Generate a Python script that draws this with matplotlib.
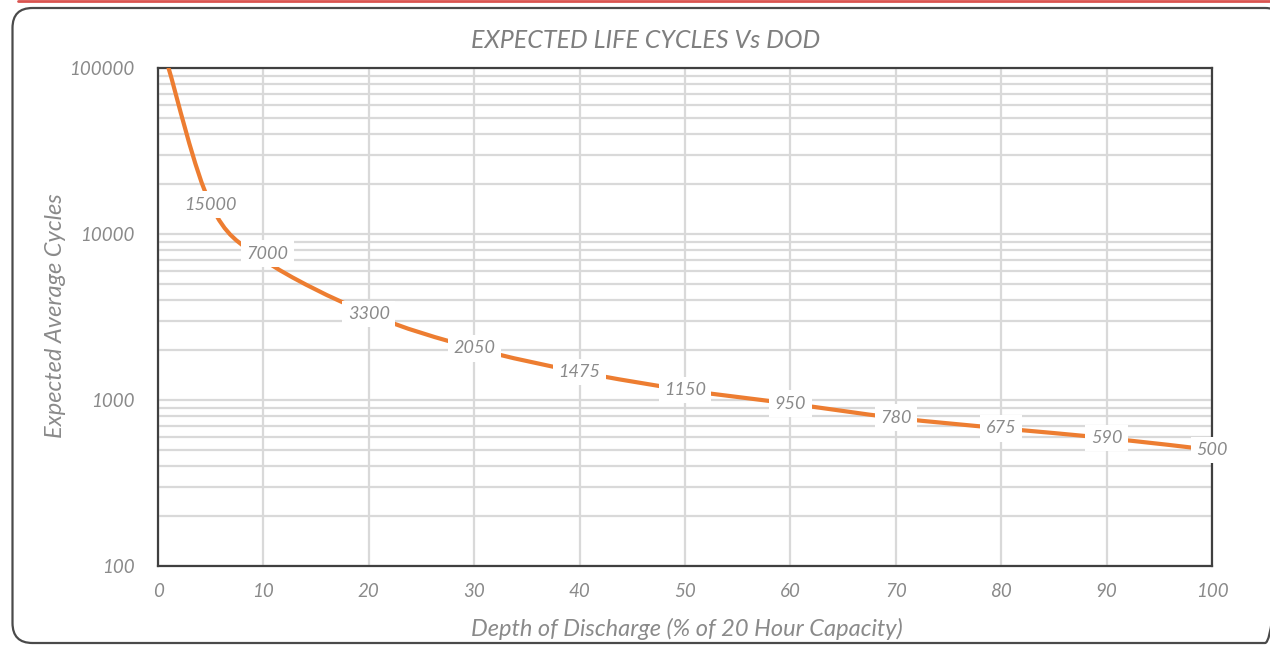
import numpy as np
import matplotlib
matplotlib.use("Agg")
import matplotlib.pyplot as plt
from matplotlib.path import Path
from matplotlib.patches import PathPatch, FancyBboxPatch
from matplotlib.ticker import FixedLocator, LogLocator, NullFormatter

# ---- data ----
dod = [1, 5, 10, 20, 30, 40, 50, 60, 70, 80, 90, 100]
cycles = [100000, 15000, 7000, 3300, 2050, 1475, 1150, 950, 780, 675, 590, 500]
labels = ["", "15000", "7000", "3300", "2050", "1475", "1150", "950", "780", "675", "590", "500"]
x_ticks = [0, 10, 20, 30, 40, 50, 60, 70, 80, 90, 100]
y_ticks = [100, 1000, 10000, 100000]
title = "EXPECTED LIFE CYCLES Vs DOD"
xlabel = "Depth of Discharge (% of 20 Hour Capacity)"
ylabel = "Expected Average Cycles"

FONT = "Lato"
TXT = "#8a8a8a"
ORANGE = "#ED7D31"
GRID = "#d9d9d9"
SPINE = "#404040"

W, H = 1270, 645
fig = plt.figure(figsize=(W / 100, H / 100), dpi=100)
fig.patch.set_facecolor("white")

# overlay in pixel coordinates for the decorative frame
ov = fig.add_axes([0, 0, 1, 1], zorder=-1)
ov.set_xlim(0, W)
ov.set_ylim(H, 0)
ov.axis("off")
ov.add_patch(FancyBboxPatch((12.5, 8), 1285 - 12.5, 643 - 8,
                            boxstyle="round,pad=0,rounding_size=20",
                            fill=False, edgecolor="#4a4a4a", linewidth=1.6,
                            clip_on=False))
ov.plot([18, W], [0.6, 0.6], color="#d9534f", linewidth=2, solid_capstyle="round")

ax = fig.add_axes([158 / W, (H - 566) / H, (1212 - 158) / W, (566 - 68) / H])
ax.set_yscale("log")
ax.set_xlim(0, 100)
ax.set_ylim(100, 100000)

ax.xaxis.set_major_locator(FixedLocator(x_ticks))
ax.yaxis.set_major_locator(FixedLocator(y_ticks))
ax.yaxis.set_minor_locator(LogLocator(base=10, subs=np.arange(2, 10)))
ax.yaxis.set_minor_formatter(NullFormatter())
ax.set_xticklabels([str(v) for v in x_ticks])
ax.set_yticklabels([str(v) for v in y_ticks])
ax.tick_params(axis="both", which="both", length=0, colors=TXT, labelsize=13.5)
ax.tick_params(axis="x", pad=12)
ax.tick_params(axis="y", pad=17)
for lab in ax.get_xticklabels() + ax.get_yticklabels():
    lab.set_fontstyle("italic")
    lab.set_fontfamily(FONT)

ax.grid(True, which="major", color=GRID, linewidth=1.6)
ax.grid(True, which="minor", axis="y", color=GRID, linewidth=1.6)
ax.set_axisbelow(True)
for s in ax.spines.values():
    s.set_color(SPINE)
    s.set_linewidth(1.6)

# smooth line (Catmull-Rom style Bezier in x/log-y space)
xs = np.array(dod, dtype=float)
ls = np.log10(np.array(cycles, dtype=float))
n = len(xs)
verts = [(xs[0], 10 ** ls[0])]
codes = [Path.MOVETO]
for i in range(n - 1):
    p0 = np.array([xs[max(i - 1, 0)], ls[max(i - 1, 0)]])
    p1 = np.array([xs[i], ls[i]])
    p2 = np.array([xs[i + 1], ls[i + 1]])
    p3 = np.array([xs[min(i + 2, n - 1)], ls[min(i + 2, n - 1)]])
    c1 = p1 + (p2 - p0) / 6.0
    c2 = p2 - (p3 - p1) / 6.0
    for c in (c1, c2, p2):
        verts.append((c[0], 10 ** c[1]))
        codes.append(Path.CURVE4)
ax.add_patch(PathPatch(Path(verts, codes), fill=False, edgecolor=ORANGE,
                       linewidth=3.0, capstyle="round", zorder=3))

for x, y, t in zip(dod, cycles, labels):
    if not t:
        continue
    off = (4, 6) if t == "7000" else (0, 0)
    ax.annotate(t, (x, y), xytext=off, textcoords="offset pixels",
                ha="center", va="center", fontsize=13, color=TXT,
                fontstyle="italic", family=FONT, zorder=5, annotation_clip=False,
                bbox=dict(boxstyle="square,pad=0.3", facecolor="white", edgecolor="none"))

fig.text(646 / W, 1 - 41 / H, title, ha="center", va="center", fontsize=18,
         color="#7f7f7f", fontstyle="italic", family=FONT)
fig.text(687 / W, 1 - 629 / H, xlabel, ha="center", va="center", fontsize=17,
         color=TXT, fontstyle="italic", family=FONT)
fig.text(56 / W, 1 - 316 / H, ylabel, ha="center", va="center", fontsize=17,
         color=TXT, fontstyle="italic", family=FONT, rotation=90)

fig.savefig("out.png", dpi=100, facecolor="white")
